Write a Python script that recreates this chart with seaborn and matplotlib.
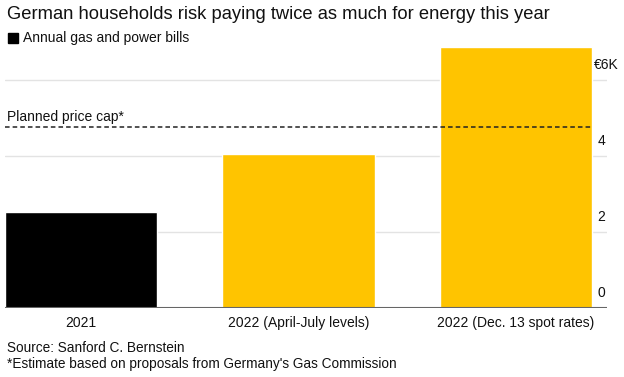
import matplotlib
matplotlib.use("Agg")
import matplotlib.pyplot as plt
import seaborn as sns
import pandas as pd

# --- Data ---
categories = ["2021", "2022 (April-July levels)", "2022 (Dec. 13 spot rates)"]
bills_k = [2.53, 4.05, 6.87]
bar_colors = ["#000000", "#ffc400", "#ffc400"]
price_cap_k = 4.76
tick_values = [0, 2, 4, 6]
tick_labels = ["0", "2", "4", "€6K"]

sns.set_theme(style="white")
plt.rcParams["font.family"] = ["Liberation Sans", "DejaVu Sans"]

df = pd.DataFrame({"category": categories, "bill": bills_k})

fig = plt.figure(figsize=(6.24, 3.77), dpi=100)
ax = fig.add_axes([0.008, 0.183, 0.965, 0.706])

sns.barplot(data=df, x="category", y="bill", hue="category",
            palette=bar_colors, width=0.7, saturation=1, legend=False,
            ax=ax, zorder=2)

# gridlines
for v in tick_values[1:]:
    ax.axhline(v, color="#e3e3e3", lw=1, zorder=1)
ax.axhline(0, color="#666666", lw=1.5, zorder=3)

# planned price cap
ax.plot([-0.35, 2.35], [price_cap_k, price_cap_k], color="#222222",
        lw=1.1, ls=(0, (3, 2)), zorder=4)
ax.text(-0.34, price_cap_k + 0.08, "Planned price cap*", fontsize=10,
        color="#111111", va="bottom", ha="left")

ax.set_xlim(-0.35, 2.42)
ax.set_ylim(0, 7.0)

# right-side tick labels above gridlines
for v, lab in zip(tick_values, tick_labels):
    x = 2.36 if lab.startswith("€") else 2.375
    ax.text(x, v + 0.2, lab, fontsize=10, color="#111111",
            ha="left", va="bottom")

ax.set_yticks([])
ax.set_xlabel("")
ax.set_ylabel("")
ax.tick_params(axis="x", length=0, pad=6, labelsize=10, colors="#111111")
for s in ax.spines.values():
    s.set_visible(False)

# header
fig.text(0.011, 0.962, "German households risk paying twice as much for energy this year",
         fontsize=13.2, color="#111111", va="center", ha="left")
fig.patches.append(plt.Rectangle((0.013, 0.885), 0.016, 0.027,
                                 transform=fig.transFigure, color="#000000"))
fig.text(0.037, 0.899, "Annual gas and power bills", fontsize=10,
         color="#111111", va="center", ha="left")

# footer
fig.text(0.011, 0.077, "Source: Sanford C. Bernstein", fontsize=9.8,
         color="#111111", va="center", ha="left")
fig.text(0.011, 0.034, "*Estimate based on proposals from Germany's Gas Commission",
         fontsize=9.8, color="#111111", va="center", ha="left")

fig.savefig("out.png", dpi=100, facecolor="white")
